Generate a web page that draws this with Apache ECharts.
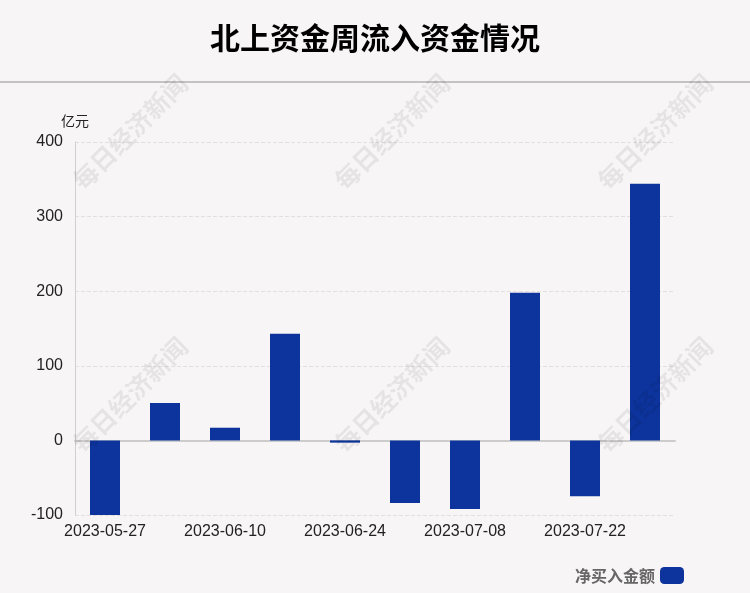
<!DOCTYPE html>
<html><head><meta charset="utf-8">
<script src="https://cdn.jsdelivr.net/npm/echarts@6/dist/echarts.min.js"></script>
<style>html,body{margin:0;padding:0;background:#f8f5f6}#c{width:750px;height:593px}</style>
</head><body><div id="c"></div>
<script>
var categories = ['2023-05-27','2023-06-03','2023-06-10','2023-06-17','2023-06-24','2023-07-01','2023-07-08','2023-07-15','2023-07-22','2023-07-29'];
var netBuy = [-100, 50, 17, 143, -3, -84, -92, 198, -75, 344];
var seriesName = '净买入金额';
var titleText = '北上资金周流入资金情况';
var unitName = '亿元';
var watermark = '每日经济新闻';
var wmPos = [[130,132],[392,132],[655,132],[130,395],[392,395],[655,395]];

var chart = echarts.init(document.getElementById('c'));
var graphics = [{type:'line', shape:{x1:0,y1:82,x2:750,y2:82}, style:{stroke:'#c4c2c3', lineWidth:2}, z:10}];
wmPos.forEach(function(p){
  graphics.push({type:'text', x:p[0], y:p[1], rotation:Math.PI/4, z:100, silent:true,
    style:{text:watermark, fill:'rgba(0,0,0,0.07)', font:'bold 25px "Noto Sans CJK SC"', textAlign:'center', textVerticalAlign:'middle'}});
});
chart.setOption({
  backgroundColor:'#f8f5f6',
  title:{text:titleText, left:'center', top:18, textStyle:{fontSize:30, fontWeight:'bold', color:'#000', fontFamily:'"Noto Sans CJK SC"'}},
  graphic:graphics,
  legend:{data:[seriesName], right:61, bottom:4, align:'right', itemWidth:24, itemHeight:17, icon:'roundRect',
    textStyle:{fontSize:16, color:'#666', fontWeight:'bold', fontFamily:'"Noto Sans CJK SC"'}},
  grid:{left:75, right:75, top:142, bottom:78},
  xAxis:{type:'category', data:categories,
    axisLine:{onZero:true, lineStyle:{color:'#cccccc', width:2}},
    axisTick:{show:false},
    axisLabel:{interval:1, fontSize:16, color:'#222', margin:9, fontFamily:'Liberation Sans'}},
  yAxis:{type:'value', min:-100, max:400, interval:100, name:unitName,
    nameLocation:'end', nameGap:14, nameTextStyle:{fontSize:14, color:'#222', align:'center', padding:[0,0,0,0], fontFamily:'"Noto Sans CJK SC"'},
    axisLine:{show:true, lineStyle:{color:'#d0d0d0'}},
    axisTick:{show:false},
    axisLabel:{fontSize:16, color:'#222', margin:12, fontFamily:'Liberation Sans'},
    splitLine:{lineStyle:{type:'dashed', color:'#e2dfe0'}}},
  series:[{name:seriesName, type:'bar', data:netBuy, barWidth:30, itemStyle:{color:'#0d349c'}}]
});
</script></body></html>
